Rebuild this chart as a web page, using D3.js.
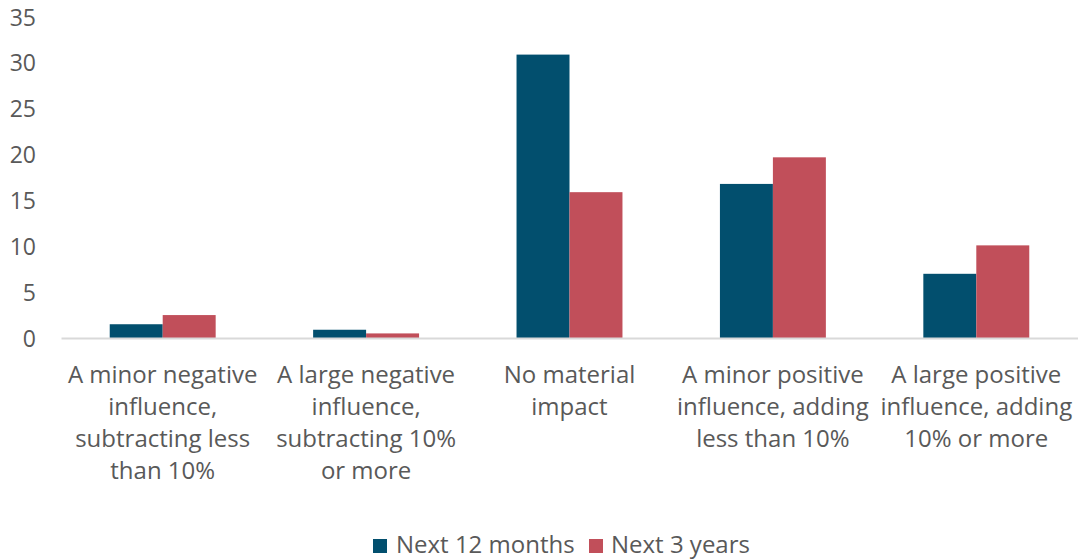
<!DOCTYPE html>
<html><head><meta charset="utf-8">
<script src="https://cdn.jsdelivr.net/npm/d3@7"></script>
<style>body{margin:0;background:#fff}svg{display:block}text{font-family:"Open Sans",sans-serif}</style>
</head><body><svg id="c" width="1078" height="559"></svg>
<script>
const categories = [
  ["A minor negative","influence,","subtracting less","than 10%"],
  ["A large negative","influence,","subtracting 10%","or more"],
  ["No material","impact"],
  ["A minor positive","influence, adding","less than 10%"],
  ["A large positive","influence, adding","10% or more"]
];
const seriesNames = ["Next 12 months","Next 3 years"];
const next12 = [1.5, 0.9, 30.9, 16.8, 7.0];
const next3 = [2.5, 0.5, 15.9, 19.7, 10.1];
const yTicks = [0,5,10,15,20,25,30,35];
const colors = ["#024F6E","#C14F5A"];

(function(){
const svg = d3.select("#c");
const mL = 61, mR = 1078, mT = 17, mB = 338;
const x = d3.scaleBand().domain(d3.range(categories.length)).range([mL,mR]).paddingInner(0).paddingOuter(0);
const xs = d3.scaleBand().domain([0,1]).range([0,x.bandwidth()]).paddingInner(0).paddingOuter(0.92);
const y = d3.scaleLinear().domain([0,35]).range([mB,mT]);

const yAxis = d3.axisLeft(y).tickValues(yTicks).tickSize(0).tickPadding(0);
const gy = svg.append("g").attr("transform",`translate(36,0)`).call(yAxis);
gy.select(".domain").remove();
gy.selectAll("text").attr("font-size",23).attr("fill","#595959").attr("font-family","Open Sans").attr("text-anchor","end").attr("dy","0.35em").attr("x",0);

const series = [next12, next3];
series.forEach((vals,si)=>{
  svg.append("g").selectAll("rect").data(vals).join("rect")
    .attr("x",(d,i)=>x(i)+xs(si))
    .attr("y",d=>y(d))
    .attr("width",xs.bandwidth())
    .attr("height",d=>y(0)-y(d))
    .attr("fill",colors[si]);
});

const xAxis = d3.axisBottom(x).tickSize(0).tickFormat("");
const gx = svg.append("g").attr("transform",`translate(0,${mB})`).call(xAxis);
gx.select(".domain").attr("stroke","#d9d9d9").attr("stroke-width",2);

categories.forEach((lines,i)=>{
  const t = svg.append("text").attr("x",x(i)+x.bandwidth()/2).attr("y",383)
    .attr("text-anchor","middle").attr("font-size",24).attr("fill","#595959");
  lines.forEach((l,j)=>t.append("tspan").attr("x",x(i)+x.bandwidth()/2).attr("dy",j?32:0).text(l));
});

const legend = [{x:373,tx:396},{x:589,tx:611}];
seriesNames.forEach((n,i)=>{
  svg.append("rect").attr("x",legend[i].x).attr("y",539).attr("width",14).attr("height",14).attr("fill",colors[i]);
  svg.append("text").attr("x",legend[i].tx).attr("y",553).attr("font-size",24).attr("fill","#595959").text(n);
});
})();
</script></body></html>
